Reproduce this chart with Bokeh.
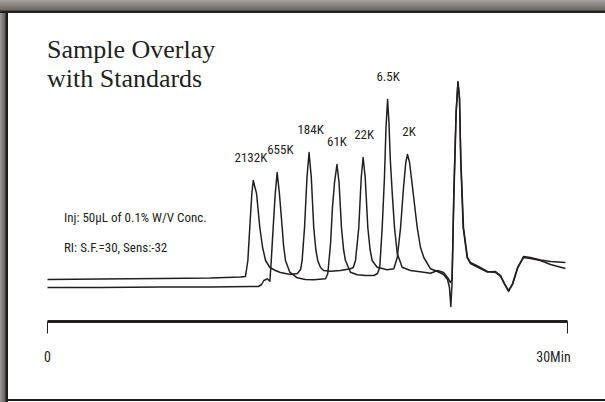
from bokeh.plotting import figure
from bokeh.models import Range1d, FixedTicker, Label, LinearAxis
from bokeh.embed import file_html
from bokeh.resources import INLINE

# ---------------- data ----------------
# time in minutes, detector signal in arbitrary units
trace_a_time = [0.00, 3.06, 6.52, 9.40, 11.13, 11.42, 11.56, 11.67, 11.79, 11.87,
                12.06, 12.25, 12.41, 12.58, 12.83, 13.15, 13.44, 14.02, 14.42, 14.60,
                14.69, 14.83, 14.97, 15.09, 15.22, 15.36, 15.48, 15.59, 15.75, 15.94,
                16.33, 16.90, 17.48, 17.64, 17.77, 17.96, 18.10, 18.21, 18.33, 18.48,
                18.61, 18.73, 19.02, 19.60, 19.98, 20.18, 20.37, 20.54, 20.67, 20.77,
                20.89, 21.10, 21.33, 21.52, 21.71, 22.10, 22.50, 22.85, 23.08, 23.19,
                23.27, 23.34, 23.44, 23.57, 23.68, 23.77, 23.84, 23.98, 24.21, 24.40,
                24.86, 25.38, 25.85, 26.14, 26.37, 26.60, 26.83, 27.12, 27.46, 27.86,
                28.44, 29.02, 29.88]
trace_a_signal = [8, 8.5, 9, 9.5, 10.5, 11, 27, 60, 94, 107,
                  94, 60, 40, 27, 20, 17, 15, 13, 14, 18,
                  27, 60, 110, 135, 110, 60, 38, 27, 20, 17,
                  16.3, 17, 18.7, 20, 27, 60, 110, 130, 110, 60,
                  38, 27, 20.3, 17.7, 18.7, 30, 60, 100, 125, 133,
                  125, 94, 60, 40, 30, 18.7, 16, 13, 8, 0,
                  -19, 5, 94, 175, 206, 190, 127, 60, 30, 24,
                  20, 15.5, 16, 12, 4, -3, 4, 20, 30, 29,
                  27, 23, 19]

trace_b_time = [0.00, 3.06, 6.52, 9.40, 11.71, 12.17, 12.35, 12.48, 12.68, 12.83,
                12.91, 13.02, 13.14, 13.25, 13.38, 13.54, 13.62, 13.73, 13.98, 14.41,
                14.88, 15.36, 16.04, 16.17, 16.33, 16.44, 16.56, 16.70, 16.82, 16.96,
                17.08, 17.19, 17.48, 17.87, 18.35, 18.83, 19.04, 19.17, 19.31, 19.44,
                19.53, 19.62, 19.70, 19.78, 19.89, 20.02, 20.18, 20.46, 20.94, 21.71,
                22.10, 22.50, 22.85, 23.08, 23.25, 23.34, 23.45, 23.58, 23.68, 23.77,
                23.85, 24.00, 24.23, 24.40, 24.86, 25.38, 25.85, 26.14, 26.37, 26.60,
                26.83, 27.12, 27.46, 27.86, 28.44, 29.02, 29.88]
trace_b_signal = [0, 0, 0.5, 0.5, 1, 1, 3, 7, 8.7, 6.3,
                  27, 60, 94, 115, 94, 60, 42, 27, 15.3, 9.7,
                  8, 7.7, 8.7, 13.7, 43.7, 80, 105, 123, 105, 60,
                  38, 27, 15.3, 12.7, 12, 12, 14, 20.3, 60, 110,
                  160, 188, 165, 127, 94, 60, 34, 20.3, 17, 15.3,
                  14.3, 17, 15, 10, 5, 8, 94, 175, 205, 188,
                  127, 60, 30, 25, 21, 16, 15, 11, 3, -4,
                  3, 19, 31, 30, 27.5, 26, 25]

peak_labels = ["2132K", "655K", "184K", "61K", "22K", "6.5K", "2K"]
peak_times = [11.87, 13.25, 15.09, 16.70, 18.21, 19.62, 20.77]
peak_heights = [107, 115, 135, 123, 130, 188, 133]

axis_ticks = [0, 30]
axis_tick_labels = ["0", "30Min"]

title_lines = ["Sample Overlay", "with Standards"]
note_lines = ["Inj: 50\u00b5L of 0.1% W/V Conc.", "RI: S.F.=30, Sens:-32"]

# ---------------- styling ----------------
INK = "#231f20"
NARROW = "Roboto Condensed, DejaVu Sans Condensed, Liberation Sans Narrow, sans-serif"
SERIF = "Liberation Serif"
PX_PER_MIN = 520 / 30.0
TEXT_SHIFT = 7   # px, lifts text onto the reference baselines

p = figure(width=605, height=402, output_backend="svg", toolbar_location=None,
           x_range=Range1d(-2.7115, 32.193), y_range=Range1d(-34, 287),
           y_axis_location=None, x_axis_location="below",
           min_border_left=0, min_border_right=0, min_border_top=0,
           min_border_bottom=81)

p.grid.visible = False
p.outline_line_color = None
p.border_fill_color = None
p.background_fill_color = None
p.styles = {
    "background": (
        "linear-gradient(to bottom, #a6a19c 0px, #6e6965 10px, #2a2726 11px, #1e1c1b 13px, rgba(255,255,255,0) 13px), "
        "linear-gradient(to right, #9d9893 0px, #66625e 5px, #1e1c1b 6px, #1e1c1b 8px, rgba(255,255,255,0) 8px), "
        "linear-gradient(to top, rgba(255,255,255,0) 1px, #1e1c1b 1px, #1e1c1b 3px, rgba(255,255,255,0) 3px), "
        "#ffffff"
    )
}

# axis line + end ticks
ax = p.xaxis[0]
ax.ticker = FixedTicker(ticks=axis_ticks, minor_ticks=[])
ax.bounds = (axis_ticks[0], axis_ticks[-1])
ax.major_label_overrides = {t: "" for t in axis_ticks}
ax.major_label_text_font_size = "0px"
ax.major_label_standoff = 0
ax.axis_line_width = 3
ax.axis_line_color = INK
ax.major_tick_in = 0
ax.major_tick_out = 12
ax.major_tick_line_width = 1
ax.major_tick_line_color = INK
ax.minor_tick_out = 0
ax.minor_tick_in = 0

# tick labels: "0" centred on its tick, "30Min" ending at its tick (as in the reference)
label_pos = [axis_ticks[0], axis_ticks[1] - 14 / PX_PER_MIN]
lab_ax = LinearAxis(ticker=FixedTicker(ticks=label_pos, minor_ticks=[]),
                    major_label_overrides={pos: s for pos, s in zip(label_pos, axis_tick_labels)},
                    axis_line_color=None, major_tick_line_color=None,
                    minor_tick_line_color=None, major_tick_in=0, major_tick_out=0,
                    minor_tick_in=0, minor_tick_out=0, major_label_standoff=15,
                    major_label_text_font=NARROW, major_label_text_font_size="14px",
                    major_label_text_color=INK)
p.add_layout(lab_ax, "below")

# chromatogram traces
p.line(trace_a_time, trace_a_signal, line_color=INK, line_width=1.5, line_join="round")
p.line(trace_b_time, trace_b_signal, line_color=INK, line_width=1.5, line_join="round")

# peak labels
aligns = ["right", "left", "center", "center", "center", "center", "center"]
nudges = [14, -10, 1.5, 0, 1, 0.5, 1.5]
for lab, t, h, al, dx in zip(peak_labels, peak_times, peak_heights, aligns, nudges):
    p.add_layout(Label(x=t, y=h, text=lab, x_offset=dx, y_offset=16 + TEXT_SHIFT,
                       text_align=al, text_baseline="alphabetic",
                       text_font=NARROW, text_font_size="13px", text_color=INK))

# title block
for i, line in enumerate(title_lines):
    p.add_layout(Label(x=-0.03, y=231.5 - 29.5 * i, text=line, y_offset=TEXT_SHIFT,
                       text_align="left", text_baseline="alphabetic",
                       text_font=SERIF, text_font_size="26px", text_color=INK))

# injection notes
for i, line in enumerate(note_lines):
    p.add_layout(Label(x=0.95, y=63 - 30 * i, text=line, y_offset=TEXT_SHIFT,
                       text_align="left", text_baseline="alphabetic",
                       text_font=NARROW, text_font_size="13px", text_color=INK))

open("out.html", "w").write(file_html(p, INLINE))
